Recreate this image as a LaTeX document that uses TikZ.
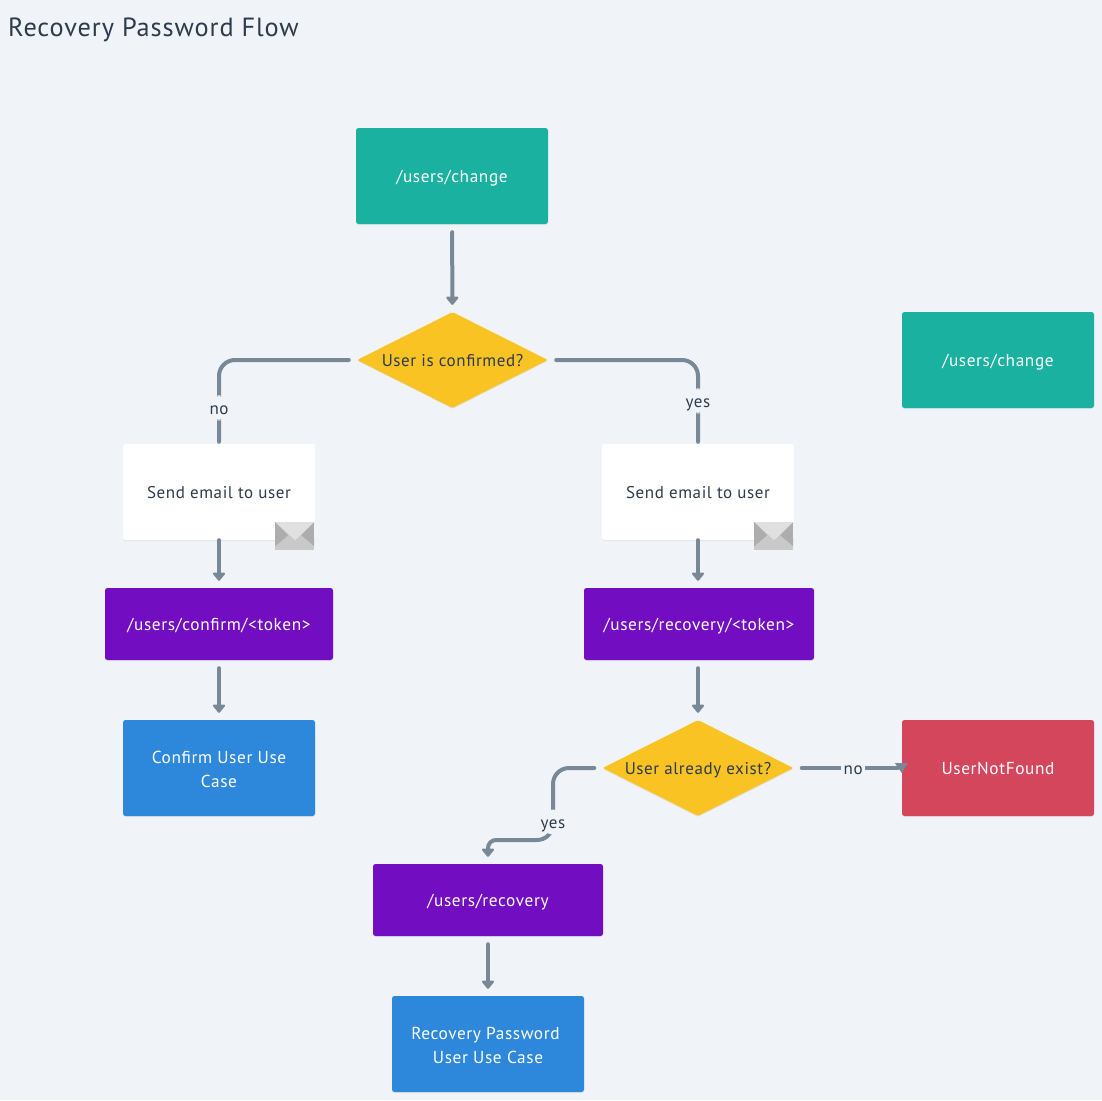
\documentclass[tikz,border=0pt]{standalone}
\usepackage{fontspec}
\setmainfont[LetterSpace=3.5]{PT Sans}
\usetikzlibrary{arrows.meta,shapes.geometric,shadows,calc}
\definecolor{bgc}{HTML}{F0F4F8}
\definecolor{linec}{HTML}{788896}
\definecolor{textc}{HTML}{2D3B4D}
\definecolor{tealc}{HTML}{1AB1A0}
\definecolor{purplec}{HTML}{720DC2}
\definecolor{bluec}{HTML}{2D88DC}
\definecolor{redc}{HTML}{D4465C}
\definecolor{yellowc}{HTML}{F9C324}
\tikzset{
  x=1pt,y=-1pt,
  softshadow/.style={drop shadow={opacity=.12,shadow xshift=0pt,shadow yshift=-1pt}},
  lowered/.style={execute at begin node={\rule{0pt}{18pt}},execute at end node={\rule[-5pt]{0pt}{5pt}}},
  twoline/.style={execute at begin node={\rule{0pt}{44pt}}},
  card/.style={rectangle,rounded corners=2.5pt,inner sep=0pt,align=center,text=white,font=\fontsize{17.3}{24}\selectfont,lowered,softshadow},
  bigbox/.style={card,minimum width=192pt,minimum height=96pt},
  urlbox/.style={card,fill=purplec,minimum width=230pt,minimum height=72pt},
  sendbox/.style={bigbox,fill=white,text=textc,font=\fontsize{17}{24}\selectfont},
  decision/.style={diamond,aspect=2,inner sep=-2pt,fill=yellowc,text=textc,font=\fontsize{17}{24}\selectfont,lowered,minimum width=191pt,minimum height=96pt,rounded corners=1.5pt,softshadow},
  flow/.style={draw=linec,line width=4pt,line cap=round,shorten <=8pt},
  flowin/.style={flow,shorten >=7pt,-{Triangle[width=14pt,length=9pt,round=false]}},
  elabel/.style={fill=bgc,text=textc,font=\fontsize{17}{24}\selectfont,lowered,inner sep=0pt,minimum width=24pt,minimum height=25pt},
  pics/envelope/.style={code={
    \fill[black!21] (-40,-18) rectangle (-1,10);
    \fill[black!12] (-40,-18) -- (-1,-18) -- (-20,0) -- cycle;
    \fill[black!32] (-40,-18) -- (-40,6) -- (-27,-5) -- cycle;
    \fill[black!32] (-1,-18) -- (-1,6) -- (-14,-5) -- cycle;
  }}
}
\begin{document}
\begin{tikzpicture}
\useasboundingbox[fill=bgc] (0,0) rectangle (1102,1100);
\node[anchor=base west,text=textc,font=\fontsize{26.3}{30}\selectfont,inner sep=0pt] (title) at (8,36) {Recovery Password Flow};

\node[bigbox,fill=tealc] (change) at (452,176) {/users/change};
\node[decision] (confirmed) at (452.5,360) {User is confirmed?};
\node[bigbox,fill=tealc] (legend) at (998,360) {/users/change};
\node[sendbox] (sendl) at (219,492) {Send email to user};
\node[sendbox] (sendr) at (698,492) {Send email to user};
\node[urlbox,minimum width=228pt] (confirm) at (219,624) {/users/confirm/<token>};
\node[urlbox] (recovery) at (699,624) {/users/recovery/<token>};
\node[bigbox,twoline,fill=bluec] (confirmuc) at (219,768) {Confirm User Use\\Case};
\node[decision] (exist) at (698,768) {User already exist?};
\node[bigbox,fill=redc] (notfound) at (998,768) {UserNotFound};
\node[urlbox] (recov) at (488,900) {/users/recovery};
\node[bigbox,twoline,fill=bluec] (recoveryuc) at (488,1044) {\hspace*{-5pt}Recovery Password\\User Use Case};

\draw[flowin] (change) -- (confirmed);
\draw[flow,rounded corners=16pt,shorten >=2pt] (confirmed.west) -| node[elabel,pos=.786] {no} (sendl.north);
\draw[flow,rounded corners=16pt,shorten >=2pt] (confirmed.east) -| node[elabel,pos=.744] {yes} (sendr.north);
\draw[flowin,shorten <=0pt] (sendl) -- (confirm);
\draw[flowin,shorten <=0pt] (sendr.south) -- (sendr.south |- recovery.north);
\draw[flowin] (confirm) -- (confirmuc);
\draw[flowin] (recovery.south -| exist) -- (exist.north);
\draw[flowin] (recov) -- (recoveryuc);

\coordinate (bendA) at (553,768);
\coordinate (bendB) at (553,840);
\coordinate (bendC) at (488,840);
\draw[flowin,rounded corners=16pt] (exist.west) -- (bendA) -- node[elabel,pos=.75,minimum width=30pt] {yes} (bendB) [rounded corners=8pt] -- (bendC) -- (recov.north);
\draw[flow,shorten >=4pt] (exist.east) -- node[elabel,pos=.55] {no} (notfound.west);
\fill[linec] ($(notfound.west)+(-7,-5)$) -- ($(notfound.west)+(6,-5)$) -- ($(notfound.west)+(0,5)$) -- cycle;

\path (sendl.south east) pic {envelope};
\path (sendr.south east) pic {envelope};
\end{tikzpicture}
\end{document}
